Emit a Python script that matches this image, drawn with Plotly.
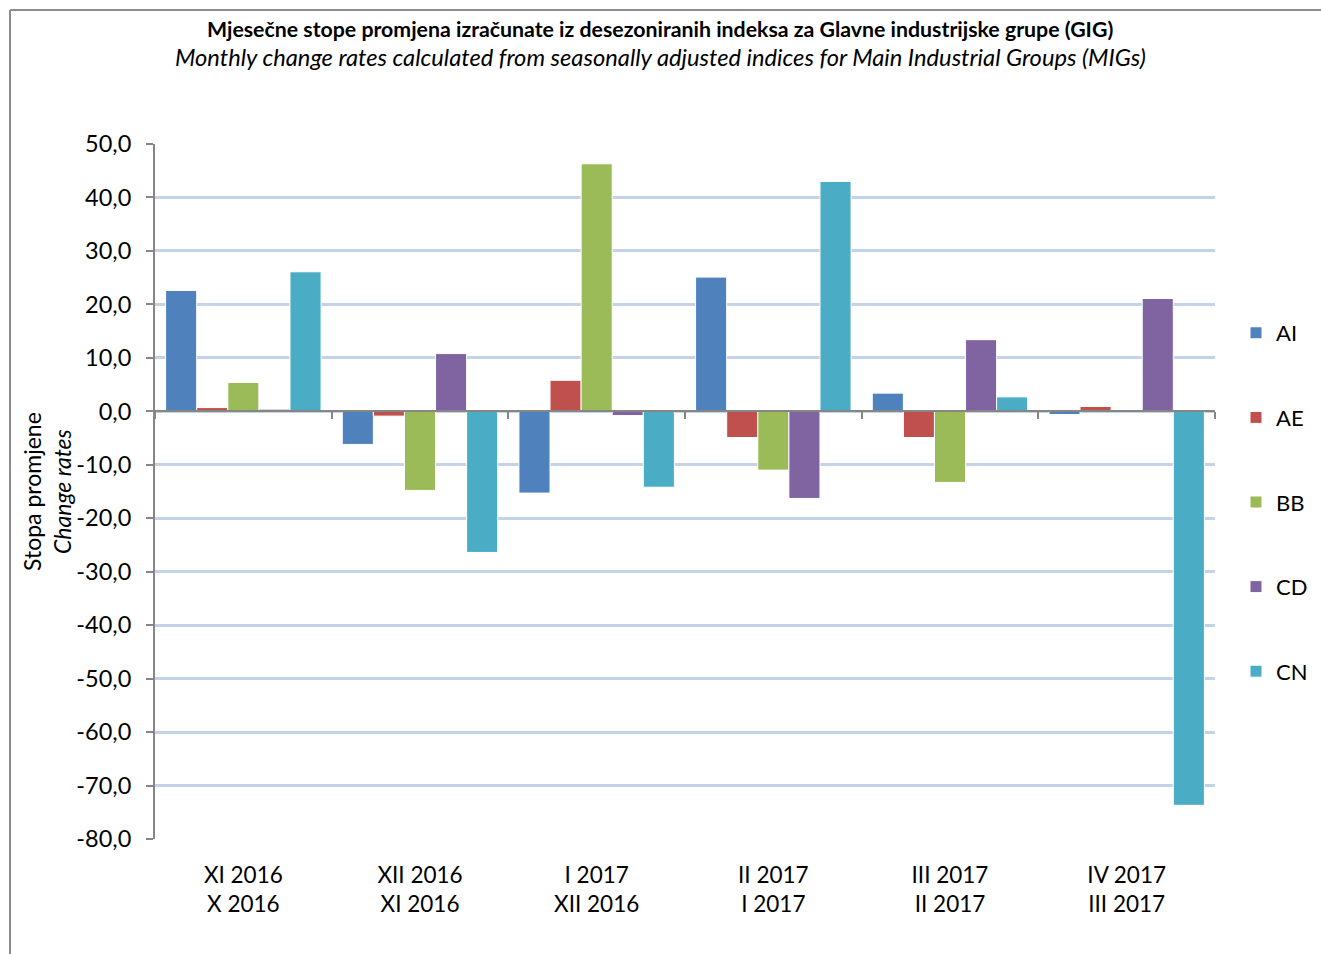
import plotly.graph_objects as go

categories = ["XI 2016<br>X 2016", "XII 2016<br>XI 2016", "I 2017<br>XII 2016",
              "II 2017<br>I 2017", "III 2017<br>II 2017", "IV 2017<br>III 2017"]
series_names = ["AI", "AE", "BB", "CD", "CN"]
AI = [22.6, -6.2, -15.3, 25.1, 3.4, -0.6]
AE = [0.7, -0.9, 5.8, -4.9, -4.9, 0.9]
BB = [5.4, -14.8, 46.3, -11.0, -13.3, 0.0]
CD = [0.4, 10.8, -0.8, -16.3, 13.4, 21.1]
CN = [26.1, -26.4, -14.2, 43.0, 2.7, -73.7]
y_tickvals = [50, 40, 30, 20, 10, 0, -10, -20, -30, -40, -50, -60, -70, -80]
y_ticktext = ["50,0", "40,0", "30,0", "20,0", "10,0", "0,0", "-10,0", "-20,0", "-30,0",
              "-40,0", "-50,0", "-60,0", "-70,0", "-80,0"]
colors = ["#4f81bd", "#c0504d", "#9bbb59", "#8064a2", "#4bacc6"]

FONT = "Lato, Open Sans, sans-serif"
fig = go.Figure()
for name, vals, col in zip(series_names, [AI, AE, BB, CD, CN], colors):
    fig.add_trace(go.Bar(x=categories, y=vals, name=name, legendgroup=name,
                         marker=dict(color=col, line=dict(color="white", width=1))))
# invisible trace for the zero-crossing category axis
fig.add_trace(go.Scatter(x=categories, y=[0]*6, xaxis="x2", mode="markers",
                         marker=dict(opacity=0), showlegend=False, hoverinfo="skip"))

L, R, T, B = 155, 106, 144, 115
W, H = 1321, 954
pw, ph = W - L - R, H - T - B
def px(x): return (x - L) / pw
def py(y): return (H - B - y) / ph

fig.update_layout(
    width=W, height=H,
    margin=dict(l=L, r=R, t=T, b=B, autoexpand=False),
    paper_bgcolor="white", plot_bgcolor="white",
    font=dict(family=FONT, size=22, color="#000"),
    barmode="group", bargap=0.12, bargroupgap=0,
    showlegend=True,
    legend=dict(x=px(1236), xanchor="left", y=py(312), yanchor="top",
                font=dict(size=22), tracegroupgap=53, itemwidth=30),
    xaxis=dict(showline=False, ticks="", showgrid=False, zeroline=False,
               tickfont=dict(size=22.5), range=[-0.5, 5.5], ticklabelstandoff=20),
    xaxis2=dict(overlaying="x", anchor="free", position=80/130, showline=True,
                linecolor="#868686", linewidth=2, ticks="outside", ticklen=7,
                tickwidth=2, tickcolor="#868686", tickson="boundaries",
                showticklabels=False, showgrid=False, zeroline=False, range=[-0.5, 5.5]),
    yaxis=dict(range=[-80, 50], tickvals=y_tickvals, ticktext=y_ticktext,
               showline=True, linecolor="#868686", linewidth=2, ticks="outside",
               ticklen=7, tickwidth=2, tickcolor="#868686",
               showgrid=True, gridcolor="#c3d3e8", gridwidth=2.5, zeroline=False,
               tickfont=dict(size=23.5), ticklabelstandoff=10),
    shapes=[
        dict(type="line", xref="paper", yref="paper", x0=px(10), x1=px(1330),
             y0=py(10), y1=py(10), line=dict(color="#8c8c8c", width=2)),
        dict(type="line", xref="paper", yref="paper", x0=px(10), x1=px(10),
             y0=py(10), y1=py(960), line=dict(color="#8c8c8c", width=2)),
    ],
    annotations=[
        dict(text="<b>Mjesečne stope promjena izračunate iz desezoniranih indeksa za Glavne industrijske grupe (GIG)</b>",
             xref="paper", yref="paper", x=px(660), y=py(29), showarrow=False,
             font=dict(size=21.3), xanchor="center", yanchor="middle"),
        dict(text="<i>Monthly change rates calculated from seasonally adjusted indices for Main Industrial Groups (MIGs)</i>",
             xref="paper", yref="paper", x=px(660), y=py(57), showarrow=False,
             font=dict(size=23.7), xanchor="center", yanchor="middle"),
        dict(text="Stopa promjene<br><i>Change rates</i>", textangle=-90,
             xref="paper", yref="paper", x=px(47), y=py(492), showarrow=False,
             font=dict(size=23), xanchor="center", yanchor="middle"),
    ],
)
fig.write_html("out.html", config={"displayModeBar": False},
               post_script="document.body.style.margin='0';document.body.style.overflow='hidden';")
